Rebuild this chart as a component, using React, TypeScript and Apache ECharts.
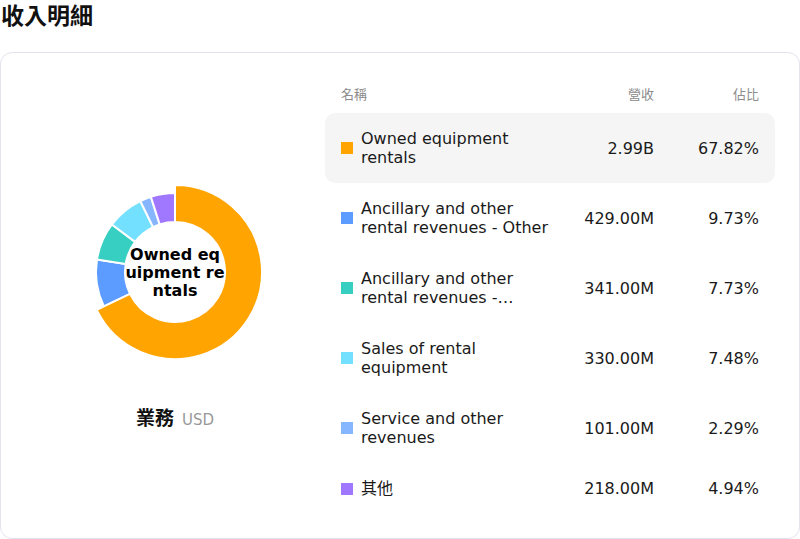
import { useEffect, useRef } from 'react';
import * as echarts from 'echarts';

// segment data (USD)
const segmentNames = [
  'Owned equipment rentals',
  'Ancillary and other rental revenues - Other',
  'Ancillary and other rental revenues -…',
  'Sales of rental equipment',
  'Service and other revenues',
  '其他',
];
const revenueMillions = [2990, 429, 341, 330, 101, 218];
const revenueLabels = ['2.99B', '429.00M', '341.00M', '330.00M', '101.00M', '218.00M'];
const shareLabels = ['67.82%', '9.73%', '7.73%', '7.48%', '2.29%', '4.94%'];
const segmentColors = ['#ffa400', '#5c9bff', '#36cfc1', '#74e0ff', '#86b6ff', '#a077ff'];

const activeIndex = 0;

const FONT = '"DejaVu Sans", "Noto Sans CJK TC", sans-serif';

export default function App() {
  const chartRef = useRef<HTMLDivElement>(null);

  useEffect(() => {
    if (!chartRef.current) return;
    const chart = echarts.init(chartRef.current, undefined, { renderer: 'svg' });

    const option: echarts.EChartsOption = {
      animation: false,
      tooltip: { show: false },
      series: [
        {
          type: 'pie',
          radius: [50, 79],
          center: ['50%', '50%'],
          startAngle: 90,
          avoidLabelOverlap: false,
          itemStyle: { borderColor: '#fff', borderWidth: 2 },
          label: { show: false, position: 'center' },
          labelLine: { show: false },
          emphasis: {
            scale: true,
            scaleSize: 8,
            label: {
              show: true,
              formatter: '{b}',
              fontFamily: FONT,
              fontSize: 16,
              fontWeight: 'bold',
              color: '#000',
              width: 100,
              overflow: 'breakAll',
              lineHeight: 18,
            },
          },
          data: segmentNames.map((name, i) => ({
            name,
            value: revenueMillions[i],
            itemStyle: { color: segmentColors[i] },
            // keep the slice colour when it is highlighted
            emphasis: { itemStyle: { color: segmentColors[i] } },
          })),
        },
      ],
    };

    chart.setOption(option);
    chart.dispatchAction({ type: 'highlight', seriesIndex: 0, dataIndex: activeIndex });

    return () => {
      chart.dispose();
    };
  }, []);

  return (
    <div
      style={{
        position: 'absolute',
        left: 0,
        top: 0,
        width: 800,
        height: 539,
        background: '#fff',
        fontFamily: FONT,
        color: '#1a1a1a',
      }}
    >
      <div
        style={{
          position: 'absolute',
          left: 1,
          top: 1,
          fontSize: 23,
          fontWeight: 700,
          lineHeight: '30px',
          color: '#111',
        }}
      >
        收入明細
      </div>

      <div
        style={{
          position: 'absolute',
          left: 0,
          top: 52,
          width: 800,
          height: 487,
          boxSizing: 'border-box',
          border: '1px solid #e3e2ed',
          borderRadius: 12,
        }}
      >
        <div ref={chartRef} style={{ position: 'absolute', left: 0, top: 0, width: 348, height: 438 }} />

        <div
          style={{
            position: 'absolute',
            left: 0,
            top: 353,
            width: 348,
            textAlign: 'center',
            lineHeight: '24px',
          }}
        >
          <span style={{ fontSize: 19, fontWeight: 700, color: '#111' }}>業務</span>
          <span style={{ fontSize: 15, color: '#999', marginLeft: 8 }}>USD</span>
        </div>

        <div style={{ position: 'absolute', left: 324, top: 32, width: 450 }}>
          <div
            style={{
              display: 'flex',
              padding: '0 16px',
              height: 20,
              lineHeight: '20px',
              fontSize: 13,
              color: '#8c8c8c',
              marginBottom: 8,
            }}
          >
            <div style={{ flex: 1 }}>名稱</div>
            <div style={{ width: 100, textAlign: 'right' }}>營收</div>
            <div style={{ width: 105, textAlign: 'right' }}>佔比</div>
          </div>

          {segmentNames.map((name, i) => (
            <div
              key={name}
              style={{
                display: 'flex',
                alignItems: 'center',
                padding: '16px',
                borderRadius: 10,
                background: i === activeIndex ? '#f5f5f5' : 'transparent',
                fontSize: 16,
                lineHeight: '19px',
              }}
            >
              <div style={{ width: 12, height: 12, background: segmentColors[i], marginRight: 8, flexShrink: 0 }} />
              <div style={{ flex: 1 }}>{name}</div>
              <div style={{ width: 100, textAlign: 'right' }}>{revenueLabels[i]}</div>
              <div style={{ width: 105, textAlign: 'right' }}>{shareLabels[i]}</div>
            </div>
          ))}
        </div>
      </div>
    </div>
  );
}
